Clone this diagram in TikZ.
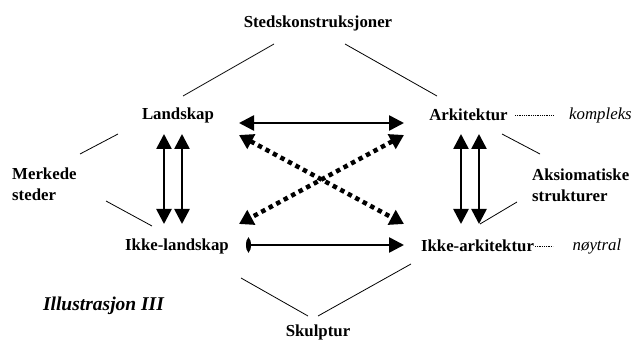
\documentclass[tikz,border=0pt]{standalone}
\usepackage{fontspec}
\setmainfont{Liberation Serif}
\usetikzlibrary{arrows.meta}
\begin{document}
\begin{tikzpicture}[x=1pt,y=-1pt,
  lbl/.style={font=\fontsize{16.8}{21}\selectfont\bfseries, inner sep=0pt},
  ilbl/.style={font=\fontsize{16.8}{21}\selectfont\itshape, inner sep=0pt},
  thin line/.style={line width=0.8pt},
  fine dots/.style={line width=0.7pt, dash pattern=on 0.9pt off 0.9pt},
  dblarr/.style={line width=2.6pt, arrows={Triangle[width=15pt,length=15pt]-Triangle[width=15pt,length=15pt]}},
  rarr/.style={line width=2.6pt, arrows={Ellipse[length=5pt,width=13pt]-Triangle[width=15pt,length=15pt]}},
  dotarr/.style={line width=4.5pt, dash pattern=on 4.5pt off 4pt, arrows={Triangle[width=16pt,length=14pt]-Triangle[width=16pt,length=14pt]}}]
\useasboundingbox (0,0) rectangle (633,342);
% nodes
\node[lbl] (steds) at (318,23) {Stedskonstruksjoner};
\node[lbl] (land) at (178,115) {Landskap};
\node[lbl] (ark) at (468.5,115) {Arkitektur};
\node[ilbl] (komp) at (600.5,115) {kompleks};
\node[lbl, anchor=west, align=left] (merk) at (12,184.5) {Merkede\\steder};
\node[lbl, anchor=west, align=left] (aks) at (532,185) {Aksiomatiske\\strukturer};
\node[lbl] (ikl) at (177,246) {Ikke-landskap};
\node[lbl] (ika) at (477.5,246) {Ikke-arkitektur};
\node[ilbl] (noy) at (597,246) {nøytral};
\node[font=\fontsize{19.5}{23}\selectfont\bfseries\itshape, inner sep=0pt] (ill) at (103.5,306) {Illustrasjon III};
\node[lbl] (skul) at (318,332.5) {Skulptur};
% connector end points
\coordinate (s1) at (274,44);  \coordinate (l1) at (183,96);
\coordinate (s2) at (345,44);  \coordinate (a1) at (437,96);
\coordinate (l2) at (118,134); \coordinate (m1) at (80,154);
\coordinate (m2) at (106,201); \coordinate (k1) at (152,226);
\coordinate (a2) at (502,134); \coordinate (x1) at (540,154);
\coordinate (x2) at (517,202); \coordinate (i1) at (480,224);
\coordinate (k2) at (241,278); \coordinate (u1) at (308,316);
\coordinate (i2) at (411,264); \coordinate (u2) at (318,316);
\coordinate (a3) at (515,115); \coordinate (c1) at (553,115);
\coordinate (i3) at (535,246); \coordinate (n1) at (553,246);
\coordinate (lt) at (239,123); \coordinate (at) at (404,123);
\coordinate (lb) at (246,245); \coordinate (ab) at (404,245);
\coordinate (dl1) at (239,135); \coordinate (dr1) at (404,135);
\coordinate (dl2) at (239,224); \coordinate (dr2) at (404,224);
\coordinate (v1t) at (164,134); \coordinate (v1b) at (164,224);
\coordinate (v2t) at (182,134); \coordinate (v2b) at (182,224);
\coordinate (v3t) at (461,134); \coordinate (v3b) at (461,224);
\coordinate (v4t) at (479,134); \coordinate (v4b) at (479,224);
% thin lines
\draw[thin line] (s1) -- (l1);
\draw[thin line] (s2) -- (a1);
\draw[thin line] (l2) -- (m1);
\draw[thin line] (m2) -- (k1);
\draw[thin line] (a2) -- (x1);
\draw[thin line] (x2) -- (i1);
\draw[thin line] (k2) -- (u1);
\draw[thin line] (i2) -- (u2);
\draw[fine dots] (a3) -- (c1);
\draw[fine dots] (i3) -- (n1);
% arrows
\draw[dblarr] (lt) -- (at);
\draw[rarr] (lb) -- (ab);
\draw[dblarr] (v1t) -- (v1b);
\draw[dblarr] (v2t) -- (v2b);
\draw[dblarr] (v3t) -- (v3b);
\draw[dblarr] (v4t) -- (v4b);
\draw[dotarr] (dl1) -- (dr2);
\draw[dotarr] (dr1) -- (dl2);
\end{tikzpicture}
\end{document}
